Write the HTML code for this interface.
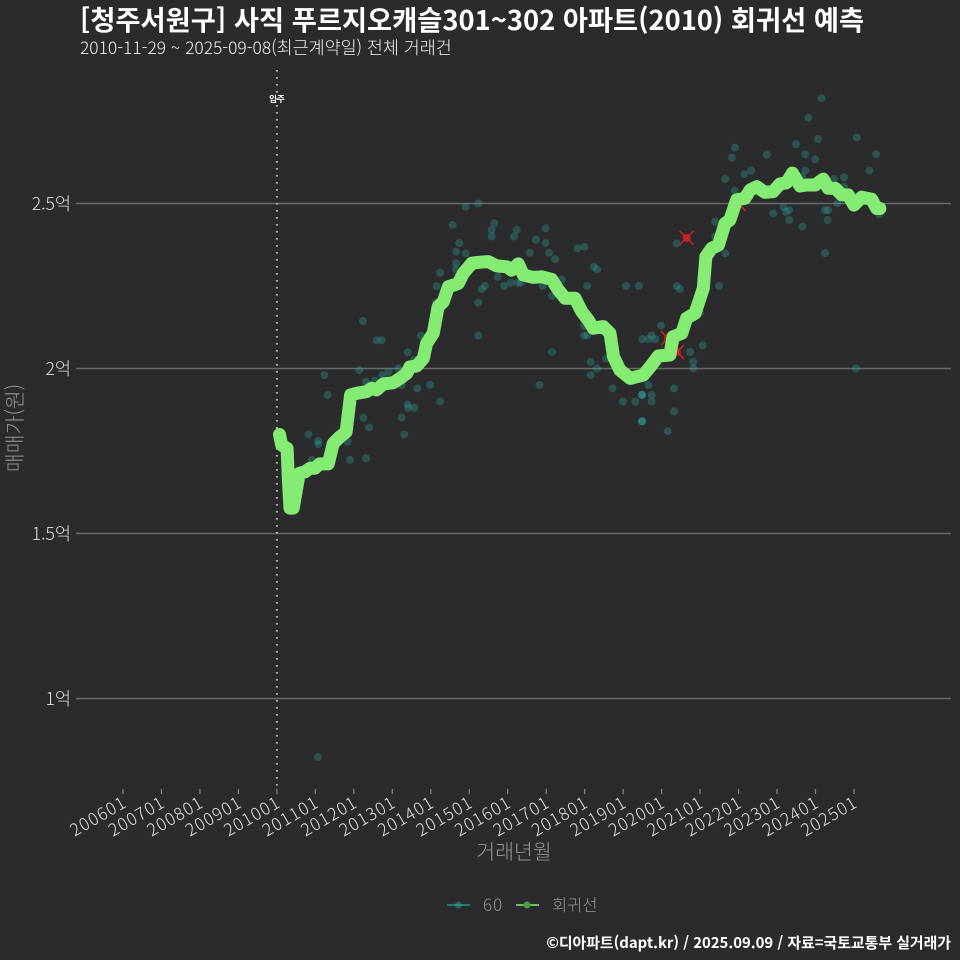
<!DOCTYPE html>
<html lang="ko">
<head>
<meta charset="utf-8">
<title>청주서원구 회귀선 예측</title>
<style>
html,body{margin:0;padding:0;background:#2b2b2d;}
svg{display:block;}
text{font-family:"Noto Sans CJK KR","NanumGothic","Liberation Sans",sans-serif;}
</style>
</head>
<body>
<svg id="chart" xmlns="http://www.w3.org/2000/svg" width="960" height="960" viewBox="0 0 960 960">
  <rect x="0" y="0" width="960" height="960" fill="#2b2b2d"/>
  <g id="grid"></g>
  <g id="move-in"></g>
  <g id="points"></g>
  <g id="outliers"></g>
  <g id="line"></g>
  <g id="x-axis"></g>
  <g id="y-axis"></g>
  <text x="80" y="30" font-size="27.300" font-weight="700" fill="#ffffff">[청주서원구] 사직 푸르지오캐슬301~302 아파트(2010) 회귀선 예측</text>
  <text x="80" y="54" font-size="17.400" font-weight="300" fill="#f4f4f4">2010-11-29 ~ 2025-09-08(최근계약일) 전체 거래건</text>
  <text x="277" y="102" font-size="8.500" font-weight="700" text-anchor="middle" fill="#ffffff">입주</text>
  <text transform="translate(22,428) rotate(-90)" font-size="20.500" font-weight="300" text-anchor="middle" fill="#969696">매매가(원)</text>
  <text x="514" y="859" font-size="20.500" font-weight="300" text-anchor="middle" fill="#969696">거래년월</text>
  <g>
    <g>
      <line x1="447" y1="905" x2="470" y2="905" stroke="#2a8f8c" stroke-width="1.6"/>
      <circle cx="458.500" cy="905" r="3.500" fill="#2fa69f" fill-opacity="0.45"/>
      <text x="483" y="911" font-size="17" font-weight="300" letter-spacing="1" fill="#969696">60</text>
    </g>
    <g>
      <line x1="516" y1="905" x2="539" y2="905" stroke="#84ec72" stroke-width="1.6"/>
      <circle cx="527" cy="905" r="3.500" fill="#4f9a4a"/>
      <text x="552" y="911" font-size="16.500" font-weight="300" fill="#969696">회귀선</text>
    </g>
  </g>
  <text x="951" y="948" font-size="14.900" font-weight="700" text-anchor="end" fill="#ffffff">©디아파트(dapt.kr) / 2025.09.09 / 자료=국토교통부 실거래가</text>
</svg>
<script>
// Months are counted from 2006-01; prices are in 억 won.
const xTickMonths = [0,12,24,36,48,60,72,84,96,108,120,132,144,156,168,180,192,204,216,228];
const xTickLabels = ["200601","200701","200801","200901","201001","201101","201201","201301","201401","201501","201601","201701","201801","201901","202001","202101","202201","202301","202401","202501"];
const yTickValues = [1,1.5,2,2.5];
const yTickLabels = ["1억","1.5억","2억","2.5억"];
const moveInMonth = 48;

const regressionMonths = [48.8,49.5,51.2,51.6,52.1,53.1,55.0,56.8,58.3,59.9,61.4,64.0,65.6,67.7,69.6,71.0,72.9,76.0,77.6,79.1,81.2,84.3,86.4,88.5,89.5,91.6,93.7,94.7,96.8,98.3,99.9,101.5,104.6,106.1,108.8,111.4,113.9,116.6,119.7,121.2,123.3,124.9,128.0,130.6,133.7,135.8,137.9,141.0,143.1,145.1,146.7,149.8,151.9,153.0,155.0,158.2,162.3,164.4,167.0,170.6,171.6,174.3,175.8,178.4,181.0,181.8,183.6,185.7,187.8,189.3,191.4,194.0,195.6,197.7,200.2,202.8,204.9,207.0,208.8,211.2,213.3,215.9,218.4,220.0,222.1,224.2,226.2,228.0,230.4,233.5,235.1,236.1];
const regressionValues = [1.80,1.768,1.758,1.662,1.577,1.577,1.682,1.687,1.698,1.698,1.711,1.711,1.773,1.793,1.808,1.920,1.925,1.930,1.940,1.935,1.953,1.957,1.970,1.985,2.005,2.008,2.031,2.076,2.107,2.187,2.202,2.248,2.258,2.288,2.319,2.322,2.324,2.311,2.308,2.298,2.317,2.283,2.276,2.278,2.270,2.238,2.213,2.213,2.172,2.147,2.122,2.127,2.107,2.036,1.995,1.970,1.980,2.005,2.038,2.041,2.096,2.107,2.152,2.167,2.243,2.339,2.364,2.374,2.440,2.450,2.511,2.516,2.541,2.551,2.534,2.536,2.559,2.563,2.592,2.553,2.556,2.556,2.574,2.546,2.546,2.526,2.526,2.495,2.519,2.513,2.485,2.485];

const dealMonths = [57.8,60.9,60.9,58.9,62.8,63.8,70.0,70.8,75.8,75.0,76.8,73.7,75.8,78.6,80.9,82.8,85.9,86.9,91.8,95.8,98.9,88.8,89.0,90.9,86.9,87.7,88.8,90.8,79.1,80.7,76.7,74.9,60.8,
106.9,110.8,102.8,115.8,115.0,115.0,122.8,122.0,131.8,128.8,131.8,132.9,134.8,126.9,104.9,103.9,106.9,103.9,103.9,98.9,97.8,103.6,116.9,112.9,111.9,110.8,118.9,121.0,123.1,124.0,130.9,133.8,136.9,141.8,143.9,146.9,147.9,144.8,110.8,133.8,92.9,97.6,143.8,143.8,144.8,145.9,147.9,145.9,129.9,
156.9,160.9,172.7,173.7,172.7,175.8,184.7,184.7,187.8,185.9,180.0,167.8,162.0,163.9,164.9,166.0,170.4,180.8,176.9,177.9,177.9,150.7,163.9,152.7,171.9,161.9,161.9,161.9,164.9,155.9,159.8,164.9,171.9,161.9,161.9,161.9,169.9,
217.9,213.8,216.8,228.9,209.9,190.9,189.9,200.8,212.8,215.9,234.9,232.8,212.8,195.9,193.8,187.8,211.9,221.8,224.9,224.9,190.8,222.8,206.0,207.8,206.8,202.8,219.0,220.0,219.8,207.8,211.9,235.9,219.0,228.6];
const dealValues = [1.80,1.78,1.771,1.723,1.98,1.92,1.778,1.723,1.728,1.851,1.821,1.995,1.96,1.963,1.98,1.99,2.0,1.95,1.94,1.95,1.90,1.891,1.881,1.881,1.851,1.80,2.049,2.026,2.086,2.086,1.95,2.144,0.823,
2.49,2.50,2.435,2.44,2.42,2.40,2.42,2.40,2.425,2.39,2.38,2.351,2.331,2.351,2.38,2.354,2.349,2.319,2.30,2.29,2.25,2.244,2.278,2.25,2.24,2.20,2.25,2.26,2.26,2.26,2.25,2.22,2.27,2.364,2.369,2.308,2.30,2.25,2.10,2.05,2.10,2.20,2.129,2.10,2.10,2.02,2.0,1.98,1.95,
2.25,2.25,2.25,2.241,2.379,2.396,2.445,2.40,2.349,2.25,2.169,2.13,2.089,2.089,2.10,2.089,2.076,2.07,2.05,2.02,2.0,2.03,1.95,1.94,1.94,1.92,1.92,1.92,1.92,1.90,1.90,1.90,1.87,1.84,1.84,1.84,1.81,
2.819,2.76,2.695,2.70,2.679,2.669,2.639,2.648,2.649,2.634,2.649,2.60,2.60,2.60,2.589,2.574,2.581,2.574,2.579,2.551,2.539,2.50,2.49,2.48,2.475,2.47,2.48,2.48,2.45,2.45,2.43,2.467,2.35,2.0];

const outlierMonths = [175.8,170.0,172.8,192.1];
const outlierValues = [2.396,2.092,2.05,2.498];

const SVG_NS = "http://www.w3.org/2000/svg";
function xScale(month){ return 123 + month * 3.206; }
function yScale(value){ return 368.5 - (value - 2) * 330; }
function make(tag, attrs, parent){
  const el = document.createElementNS(SVG_NS, tag);
  for (const k in attrs) el.setAttribute(k, attrs[k]);
  parent.appendChild(el);
  return el;
}

const gridGroup = document.getElementById("grid");
const yAxisGroup = document.getElementById("y-axis");
yTickValues.forEach(function(v, i){
  const gl = make("line", {x1:76, x2:951, y1:yScale(v), y2:yScale(v), stroke:"#6a6a6a", "stroke-width":1.4}, gridGroup);
  
  
  const tl = make("text", {x:71, y:yScale(v)+6.5, "text-anchor":"end", "font-size":17.5, "font-weight":300, fill:"#e2e2e2"}, yAxisGroup);
  tl.textContent = yTickLabels[i];
  
  
});

const xAxisGroup = document.getElementById("x-axis");
xTickMonths.forEach(function(m, i){
  const px = xScale(m);
  const tk = make("line", {x1:px, x2:px, y1:789, y2:794, stroke:"#8a8a8a", "stroke-width":1.2}, xAxisGroup);
  
  
  const tl = make("text", {transform:"translate("+(px+5)+",806) rotate(-30)", "text-anchor":"end", "font-size":17, "font-weight":300, "letter-spacing":1.2, fill:"#e2e2e2"}, xAxisGroup);
  tl.textContent = xTickLabels[i];
  
  
});

const moveIn = make("line", {x1:xScale(moveInMonth), x2:xScale(moveInMonth), y1:70, y2:790, stroke:"#b5b5b5", "stroke-width":2, "stroke-dasharray":"1.6 5.4"}, document.getElementById("move-in"));



const pointsGroup = document.getElementById("points");
dealMonths.forEach(function(m, i){
  const c = make("circle", {cx:xScale(m), cy:yScale(dealValues[i]), r:4, fill:"#2fa69f", "fill-opacity":0.32}, pointsGroup);
  
  
});

const outlierGroup = document.getElementById("outliers");
outlierMonths.forEach(function(m, i){
  const g = make("g", {transform:"translate("+xScale(m)+","+yScale(outlierValues[i])+")"}, outlierGroup);
  
  
  make("circle", {cx:0, cy:0, r:4, fill:"#d81f26", "fill-opacity":0.8}, g);
  make("path", {d:"M-7,-7L7,7M-7,7L7,-7", stroke:"#d81f26", "stroke-width":1.4, fill:"none"}, g);
});

const linePoints = regressionMonths.map(function(m, i){
  return xScale(m).toFixed(1) + "," + yScale(regressionValues[i]).toFixed(1);
}).join(" ");
const reg = make("polyline", {points:linePoints, fill:"none", stroke:"#84ec72", "stroke-width":13, "stroke-linejoin":"round", "stroke-linecap":"round"}, document.getElementById("line"));


</script>
</body>
</html>
